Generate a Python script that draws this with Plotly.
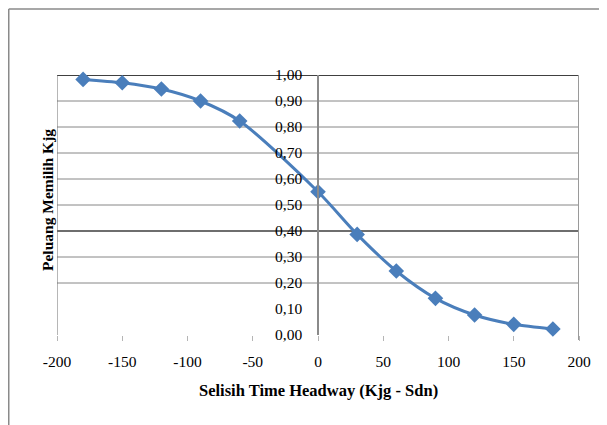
import plotly.graph_objects as go

# Data
selisih = [-180, -150, -120, -90, -60, 0, 30, 60, 90, 120, 150, 180]
peluang = [0.983, 0.970, 0.946, 0.900, 0.823, 0.551, 0.387, 0.246, 0.141, 0.077, 0.041, 0.023]

x_ticks = [-200, -150, -100, -50, 0, 50, 100, 150, 200]
x_tick_labels = ["-200", "-150", "-100", "-50", "0", "50", "100", "150", "200"]
y_ticks = [0.0, 0.1, 0.2, 0.3, 0.4, 0.5, 0.6, 0.7, 0.8, 0.9, 1.0]
y_tick_labels = ["0,00", "0,10", "0,20", "0,30", "0,40", "0,50", "0,60", "0,70", "0,80", "0,90", "1,00"]
grid_levels = [0.2, 0.3, 0.5, 0.6, 0.7, 0.8, 0.9]

x_title = "Selisih Time Headway (Kjg - Sdn)"
y_title = "Peluang Memilih Kjg"

FONT = "Liberation Serif"
BLUE = "#4a7ebb"

# page shows the figure offset by the 8px body margin
W, H = 599, 417
L, T = 49, 67
pw, ph = 522, 260
R, B = W - L - pw, H - T - ph

fig = go.Figure()
fig.add_trace(go.Scatter(
    x=selisih, y=peluang, mode="lines+markers",
    line=dict(color=BLUE, width=3, shape="spline", smoothing=0.8),
    marker=dict(symbol="diamond", size=12, color=BLUE),
    showlegend=False, cliponaxis=False,
))

shapes = []
for g in grid_levels:
    shapes.append(dict(type="line", xref="paper", yref="y", x0=0, x1=1, y0=g, y1=g,
                       line=dict(color="#868686", width=1), layer="below"))
shapes.append(dict(type="line", xref="paper", yref="y", x0=0, x1=1, y0=0.4, y1=0.4,
                   line=dict(color="#6e6e6e", width=2), layer="below"))
shapes.append(dict(type="line", xref="paper", yref="y", x0=0, x1=1, y0=1.0, y1=1.0,
                   line=dict(color="#000000", width=1.5), layer="below"))
# plot-area side borders
shapes.append(dict(type="line", xref="x", yref="paper", x0=-200, x1=-200, y0=0, y1=1,
                   line=dict(color="#6e6e6e", width=1), layer="below"))
shapes.append(dict(type="line", xref="x", yref="paper", x0=200, x1=200, y0=-5 / ph, y1=1,
                   line=dict(color="#9a9a9a", width=2), layer="below"))
# outer chart frame (top and left edges visible)
fx0 = (0.75 - L) / pw
fy_top = 1 + (T - 1) / ph
fy_bot = -(B + 5) / ph
fx_right = 1 + (R + 5) / pw
shapes.append(dict(type="line", xref="paper", yref="paper", x0=fx0, x1=fx_right, y0=fy_top, y1=fy_top,
                   line=dict(color="#8a8a8a", width=1.5)))
shapes.append(dict(type="line", xref="paper", yref="paper", x0=fx0, x1=fx0, y0=fy_bot, y1=fy_top,
                   line=dict(color="#8a8a8a", width=1.5)))

fig.update_layout(
    width=W, height=H,
    margin=dict(l=L, r=R, t=T, b=B),
    paper_bgcolor="white", plot_bgcolor="white",
    font=dict(family=FONT, size=15, color="#000000"),
    shapes=shapes,
    xaxis=dict(
        range=[-200, 200], tickvals=x_ticks, ticktext=x_tick_labels,
        showgrid=False, zeroline=False, showline=False,
        ticks="outside", ticklen=5, tickcolor="#b5b5b5", tickwidth=1,
        ticklabelstandoff=7,
        tickfont=dict(family=FONT, size=15.5),
    ),
    yaxis=dict(
        range=[0, 1], tickvals=y_ticks, ticktext=y_tick_labels,
        anchor="free", position=0.5,
        showgrid=False, zeroline=False, showline=True, linecolor="#8a8a8a", linewidth=1.5,
        ticks="", ticklabelstandoff=12,
        tickfont=dict(family=FONT, size=15.5),
    ),
    annotations=[
        dict(text="<b>" + x_title + "</b>", xref="paper", yref="paper",
             x=0.5, y=-(382 - T - ph) / ph, xanchor="center", yanchor="middle",
             showarrow=False, font=dict(family=FONT, size=16.5)),
        dict(text="<b>" + y_title + "</b>", xref="paper", yref="paper",
             x=(39 - L) / pw, y=1 - (192 - T) / ph, xanchor="center", yanchor="middle",
             textangle=-90, showarrow=False, font=dict(family=FONT, size=15.5)),
    ],
)

fig.write_html("out.html")
